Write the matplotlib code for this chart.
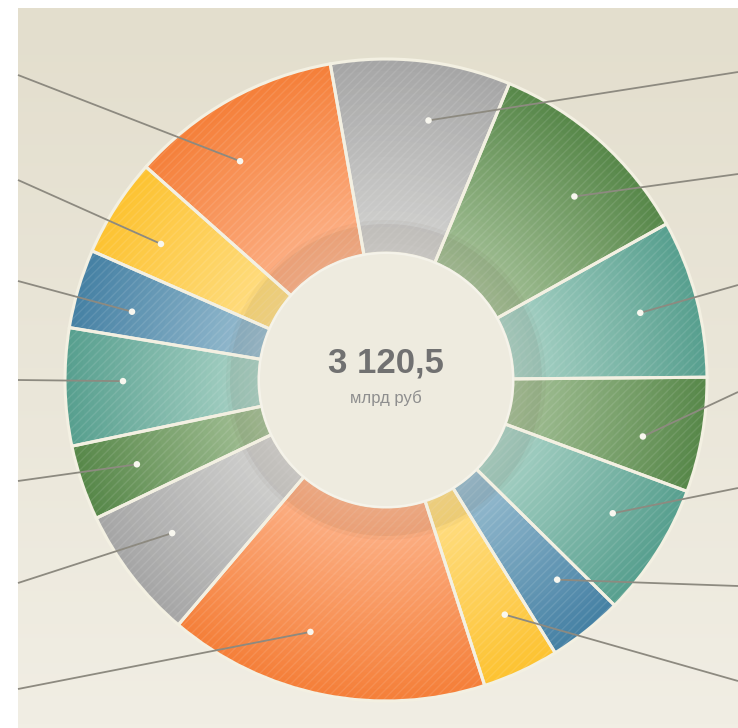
import numpy as np
import matplotlib
matplotlib.use("Agg")
import matplotlib.pyplot as plt
from matplotlib.patches import Circle
from matplotlib.colors import to_rgb

# segments clockwise, starting with the grey one at the top (mlrd rub)
values = [282.6, 332.0, 247.9, 180.3, 210.6, 117.9, 120.5,
          504.5, 209.8, 117.9, 184.6, 124.0, 155.2, 332.8]
kinds = ['grey', 'green', 'teal', 'green', 'teal', 'blue', 'yellow',
         'orange', 'grey', 'green', 'teal', 'blue', 'yellow', 'orange']
total_text = '3 120,5'
unit_text = 'млрд руб'

# where the leader lines leave the picture (pixels from the top)
label_y = [72, 174, 285, 392, 488, 586, 681,
           689, 583, 481, 380, 281, 180, 75]
# dots are not exactly at the middle of their segment (degrees)
dot_shift = [3, 4, 0, 2.5, -2, -2, -2, 5.5, 2, 0, 1, -1.5, -1.5, -4.5]

# inner (light) and outer (dark) shade of each colour
palette = {
    'orange': ('#fdb48c', '#f5803a'),
    'grey':   ('#d4d4d2', '#a6a6a6'),
    'green':  ('#a6c299', '#58884a'),
    'teal':   ('#acd4c8', '#58a08f'),
    'blue':   ('#9cc0d2', '#4681a4'),
    'yellow': ('#ffe08a', '#fdc332'),
}

W, H = 738, 728
cx, cy = 386, H - 380
r_hub, r_out, r_dot = 127, 321, 263
start_a = -10          # first boundary, degrees clockwise from 12 o'clock
startangle = 90 - start_a


def mix(c1, c2, t):
    a = np.array(to_rgb(c1))
    b = np.array(to_rgb(c2))
    return tuple(a + (b - a) * t)


fig = plt.figure(figsize=(W / 100, H / 100), dpi=100)
ax = fig.add_axes([0, 0, 1, 1])

# beige panel with a soft vertical gradient
top = np.array([227, 222, 205]) / 255
bot = np.array([241, 238, 228]) / 255
grad = np.linspace(0, 1, 200)[:, None, None]
bg = top + (bot - top) * grad
ax.imshow(bg, extent=(18, W, 0, H - 8), aspect='auto', zorder=0)

pie_kw = dict(startangle=startangle, counterclock=False, center=(cx, cy),
              frame=False)

# radial gradient: thin rings, light inside, dark outside
n = 36
edges = np.linspace(r_hub, r_out, n + 1)
for k in range(n):
    t = k / (n - 1)
    cols = [mix(palette[c][0], palette[c][1], t) for c in kinds]
    ax.pie(values, radius=edges[k + 1], colors=cols,
           wedgeprops=dict(width=edges[k + 1] - edges[k] + 0.8, linewidth=0),
           **pie_kw)

# fine diagonal stripes
ax.pie(values, radius=r_out, colors=['none'] * len(values), hatch='////',
       wedgeprops=dict(width=r_out - r_hub, edgecolor=(1, 1, 1, 0.10),
                       linewidth=0), **pie_kw)

# darker band around the hub
ax.pie(values, radius=156, colors=[(0.3, 0.22, 0.15, 0.10)],
       wedgeprops=dict(width=156 - r_hub, linewidth=0), **pie_kw)
ax.pie(values, radius=160, colors=[(0.3, 0.22, 0.15, 0.04)],
       wedgeprops=dict(width=4, linewidth=0), **pie_kw)

# cream separators between the segments
ax.pie(values, radius=r_out, colors=['none'] * len(values),
       wedgeprops=dict(width=r_out - r_hub, edgecolor='#f3f0e2',
                       linewidth=2.2), **pie_kw)

# hub
ax.add_patch(Circle((cx, cy), r_hub, facecolor='#eeebdf',
                    edgecolor='#f5f3ea', linewidth=1.5, zorder=3))

# leader lines and dots
vals = np.array(values)
cum = np.concatenate([[0], np.cumsum(vals)]) / vals.sum() * 360
mids = np.radians(start_a + (cum[:-1] + cum[1:]) / 2 + np.array(dot_shift))
dot_x = cx + r_dot * np.sin(mids)
dot_y = cy + r_dot * np.cos(mids)
for x0, y0, ly in zip(dot_x, dot_y, label_y):
    ex = 18 if x0 < cx else W
    ax.plot([ex, x0], [H - ly, y0], color='#8d8a80', lw=1.3, zorder=4,
            solid_capstyle='butt')
ax.scatter(dot_x, dot_y, s=22, color='#f8f7ef', edgecolors='none', zorder=5)

ax.text(cx, H - 363, total_text, ha='center', va='center', fontsize=25,
        fontweight='bold', color='#717171', family='Liberation Sans', zorder=6)
ax.text(cx, H - 398, unit_text, ha='center', va='center', fontsize=12,
        color='#8e8e8e', family='Liberation Sans', zorder=6)

ax.set_xlim(0, W)
ax.set_ylim(0, H)
ax.set_aspect('auto')
ax.axis('off')

fig.savefig('out.png', dpi=100, facecolor='white')
